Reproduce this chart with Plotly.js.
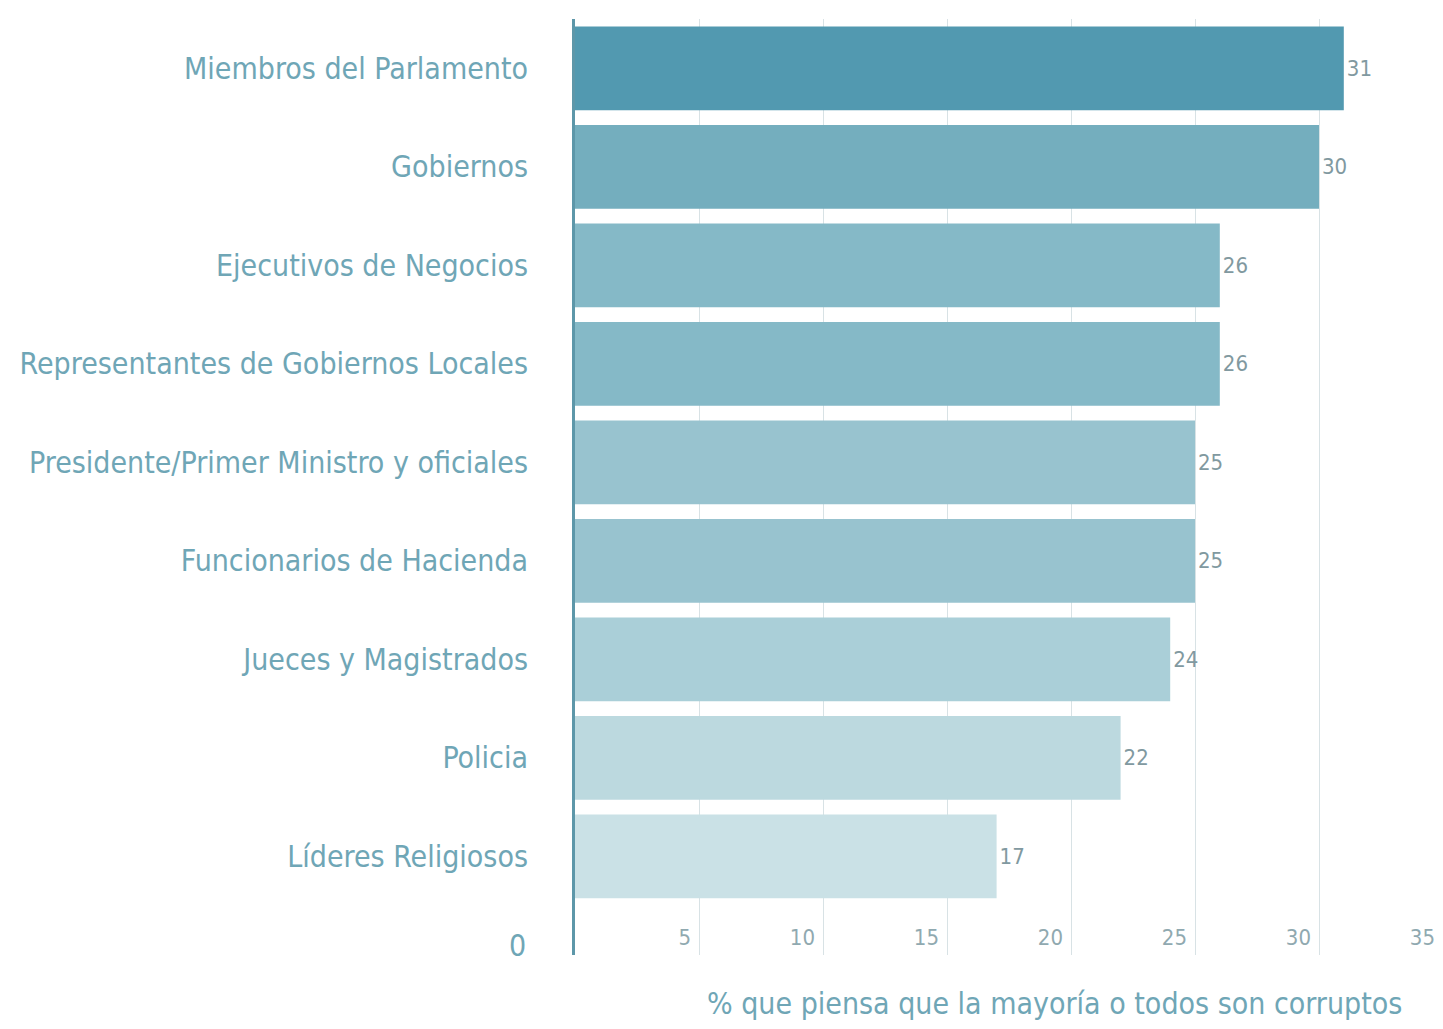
<!DOCTYPE html>
<html>
<head>
<meta charset="utf-8">
<script src="https://cdn.plot.ly/plotly-3.0.1.min.js"></script>
<style>
html,body{margin:0;padding:0;background:#ffffff;}
#chart{width:1443px;height:1029px;}
</style>
</head>
<body>
<div id="chart"></div>
<script>
const categories = [
  "Miembros del Parlamento",
  "Gobiernos",
  "Ejecutivos de Negocios",
  "Representantes de Gobiernos Locales",
  "Presidente/Primer Ministro y oficiales",
  "Funcionarios de Hacienda",
  "Jueces y Magistrados",
  "Policia",
  "Líderes Religiosos"
];
const values = [31, 30, 26, 26, 25, 25, 24, 22, 17];
const barColors = ["#5299b0", "#74aebe", "#85b9c7", "#85b9c7", "#98c3cf", "#98c3cf", "#aacfd8", "#bcd9df", "#cae1e6"];
const xTickVals = [5, 10, 15, 20, 25, 30, 35];
const xTickText = ["5", "10", "15", "20", "25", "30", "35"];
const zeroLabel = "0";
const xTitle = "% que piensa que la mayoría o todos son corruptos";

const FONT = "'DejaVu Sans Condensed', 'Liberation Sans Narrow', 'Open Sans', sans-serif";

const trace = {
  type: "bar",
  orientation: "h",
  x: values,
  y: categories,
  marker: {color: barColors, line: {width: 0}},
  text: values.map(String),
  textposition: "outside",
  cliponaxis: false,
  textfont: {family: FONT, size: 22, color: "#8199a0"},
  hoverinfo: "x+y"
};

const layout = {
  width: 1443,
  height: 1029,
  margin: {l: 575, r: 0, t: 19, b: 74},
  paper_bgcolor: "#ffffff",
  plot_bgcolor: "#ffffff",
  showlegend: false,
  bargap: 0.15,
  font: {family: FONT},
  xaxis: {
    range: [0, 35],
    tickvals: xTickVals,
    ticktext: xTickText,
    ticklabelposition: "inside left",
    ticklabelshift: -8,
    tickfont: {family: FONT, size: 22, color: "#90a9b0"},
    showgrid: true,
    gridcolor: "#d8e2e5",
    gridwidth: 1,
    zeroline: false,
    showline: false,
    ticks: ""
  },
  yaxis: {
    type: "category",
    categoryorder: "array",
    categoryarray: categories,
    range: [9.0, -0.5],
    tickfont: {family: FONT, size: 30, color: "#6fa6b6"},
    ticklabelstandoff: 38,
    showline: true,
    linecolor: "#5d97a9",
    linewidth: 3,
    showgrid: false,
    zeroline: false,
    ticks: ""
  },
  annotations: [
    {
      text: zeroLabel,
      xref: "paper", yref: "paper",
      x: 0, y: 0,
      xanchor: "right", yanchor: "middle",
      xshift: -47, yshift: 10,
      showarrow: false,
      font: {family: FONT, size: 30, color: "#6fa6b6"}
    },
    {
      text: xTitle,
      xref: "paper", yref: "paper",
      x: 0.552, y: 0,
      xanchor: "center", yanchor: "middle",
      yshift: -48,
      showarrow: false,
      font: {family: FONT, size: 30, color: "#6fa6b6"}
    }
  ]
};

Plotly.newPlot("chart", [trace], layout, {displayModeBar: false, staticPlot: true});
</script>
</body>
</html>
